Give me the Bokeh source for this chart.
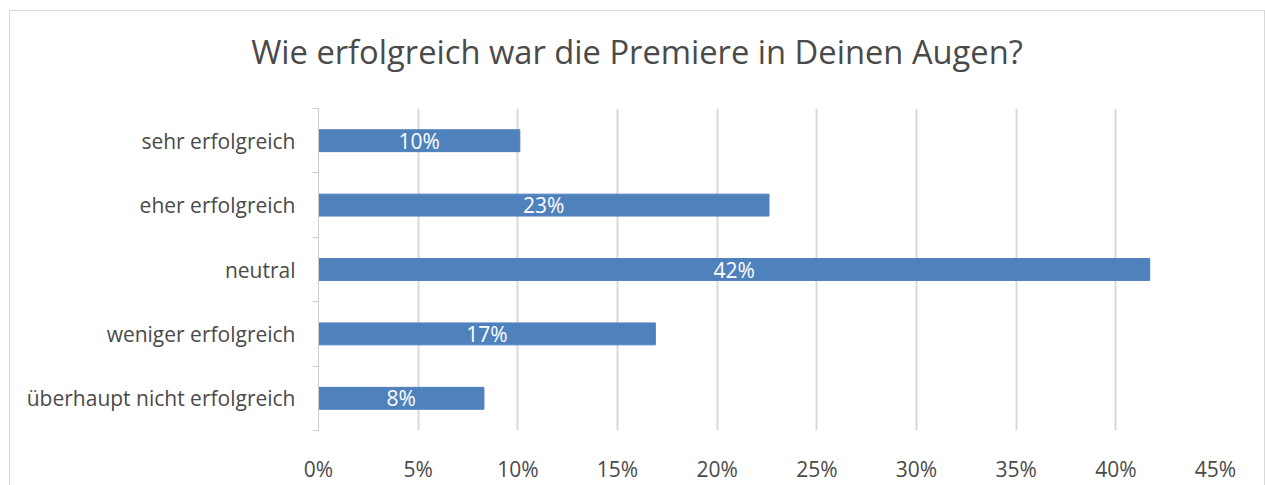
from bokeh.plotting import figure
from bokeh.layouts import column
from bokeh.models import (Range1d, FixedTicker, LinearAxis, ColumnDataSource,
                          PrintfTickFormatter, Div)
from bokeh.core.properties import value
from bokeh.embed import file_html
from bokeh.resources import INLINE

title = "Wie erfolgreich war die Premiere in Deinen Augen?"
categories = ["sehr erfolgreich", "eher erfolgreich", "neutral",
              "weniger erfolgreich", "überhaupt nicht erfolgreich"]
values = [10.1, 22.6, 41.7, 16.9, 8.3]
x_ticks = [0, 5, 10, 15, 20, 25, 30, 35, 40, 45]

FONT = "Open Sans"
TXT = "#4a4a4a"
BAR = "#4F81BD"
GRID = "#d9d9d9"
W = 1254
TITLE_H = 82

n = len(categories)
ypos = [n - i - 0.5 for i in range(n)]
labels = [f"{round(v)}%" for v in values]
src = ColumnDataSource(dict(y=ypos, v=values, half=[v / 2 for v in values],
                            lab=labels))

head = Div(text=f'<div style="width:{W}px;height:{TITLE_H}px;line-height:{TITLE_H}px;'
                f'text-align:center;font-family:\'{FONT}\';font-size:32.7px;'
                f'color:{TXT};white-space:nowrap;">{title}</div>',
           width=W, height=TITLE_H, margin=0)

p = figure(width=W, height=474 - TITLE_H, output_backend="svg", toolbar_location=None,
           x_range=Range1d(0, 45), y_range=Range1d(0, n),
           min_border_left=308, min_border_right=49,
           min_border_top=97 - TITLE_H, min_border_bottom=52, margin=0)
p.outline_line_color = None
p.background_fill_color = "white"

p.hbar(y="y", right="v", left=0, height=0.34, color=BAR, source=src)
p.text(x="half", y="y", text="lab", source=src, text_align="center",
       text_baseline="middle", text_color="white", text_font=value(FONT),
       text_font_size="21px")

# x axis
p.xaxis.ticker = FixedTicker(ticks=x_ticks)
p.xaxis.formatter = PrintfTickFormatter(format="%d%%")
p.xaxis.axis_line_color = None
p.xaxis.major_tick_line_color = None
p.xaxis.minor_tick_line_color = None
p.xaxis.major_label_text_font = FONT
p.xaxis.major_label_text_font_size = "21px"
p.xaxis.major_label_text_color = TXT
p.xaxis.major_label_standoff = 18

p.xgrid.ticker = FixedTicker(ticks=x_ticks)
p.xgrid.grid_line_color = GRID
p.xgrid.grid_line_width = 2
p.ygrid.grid_line_color = None

# inner y axis: boundary ticks only
bounds = list(range(n + 1))
ya = p.yaxis[0]
ya.ticker = FixedTicker(ticks=bounds)
ya.major_label_overrides = {b: "" for b in bounds}
ya.major_label_standoff = 0
ya.major_tick_in = 0
ya.major_tick_out = 6
ya.major_tick_line_color = "#cccccc"
ya.minor_tick_line_color = None
ya.axis_line_color = "#cccccc"

# outer y axis: category labels
ly = LinearAxis(ticker=FixedTicker(ticks=ypos),
                major_label_overrides={y: c for y, c in zip(ypos, categories)})
ly.axis_line_color = None
ly.major_tick_line_color = None
ly.minor_tick_line_color = None
ly.major_label_text_font = FONT
ly.major_label_text_font_size = "21px"
ly.major_label_text_color = TXT
ly.major_label_standoff = 11
p.add_layout(ly, "left")

layout = column(head, p, spacing=0)
layout.styles = {"margin-left": "9px", "margin-top": "10px",
                 "border-left": f"1px solid {GRID}", "border-right": f"1px solid {GRID}",
                 "border-top": f"1px solid {GRID}", "background": "white"}

open("out.html", "w").write(file_html(layout, INLINE))
